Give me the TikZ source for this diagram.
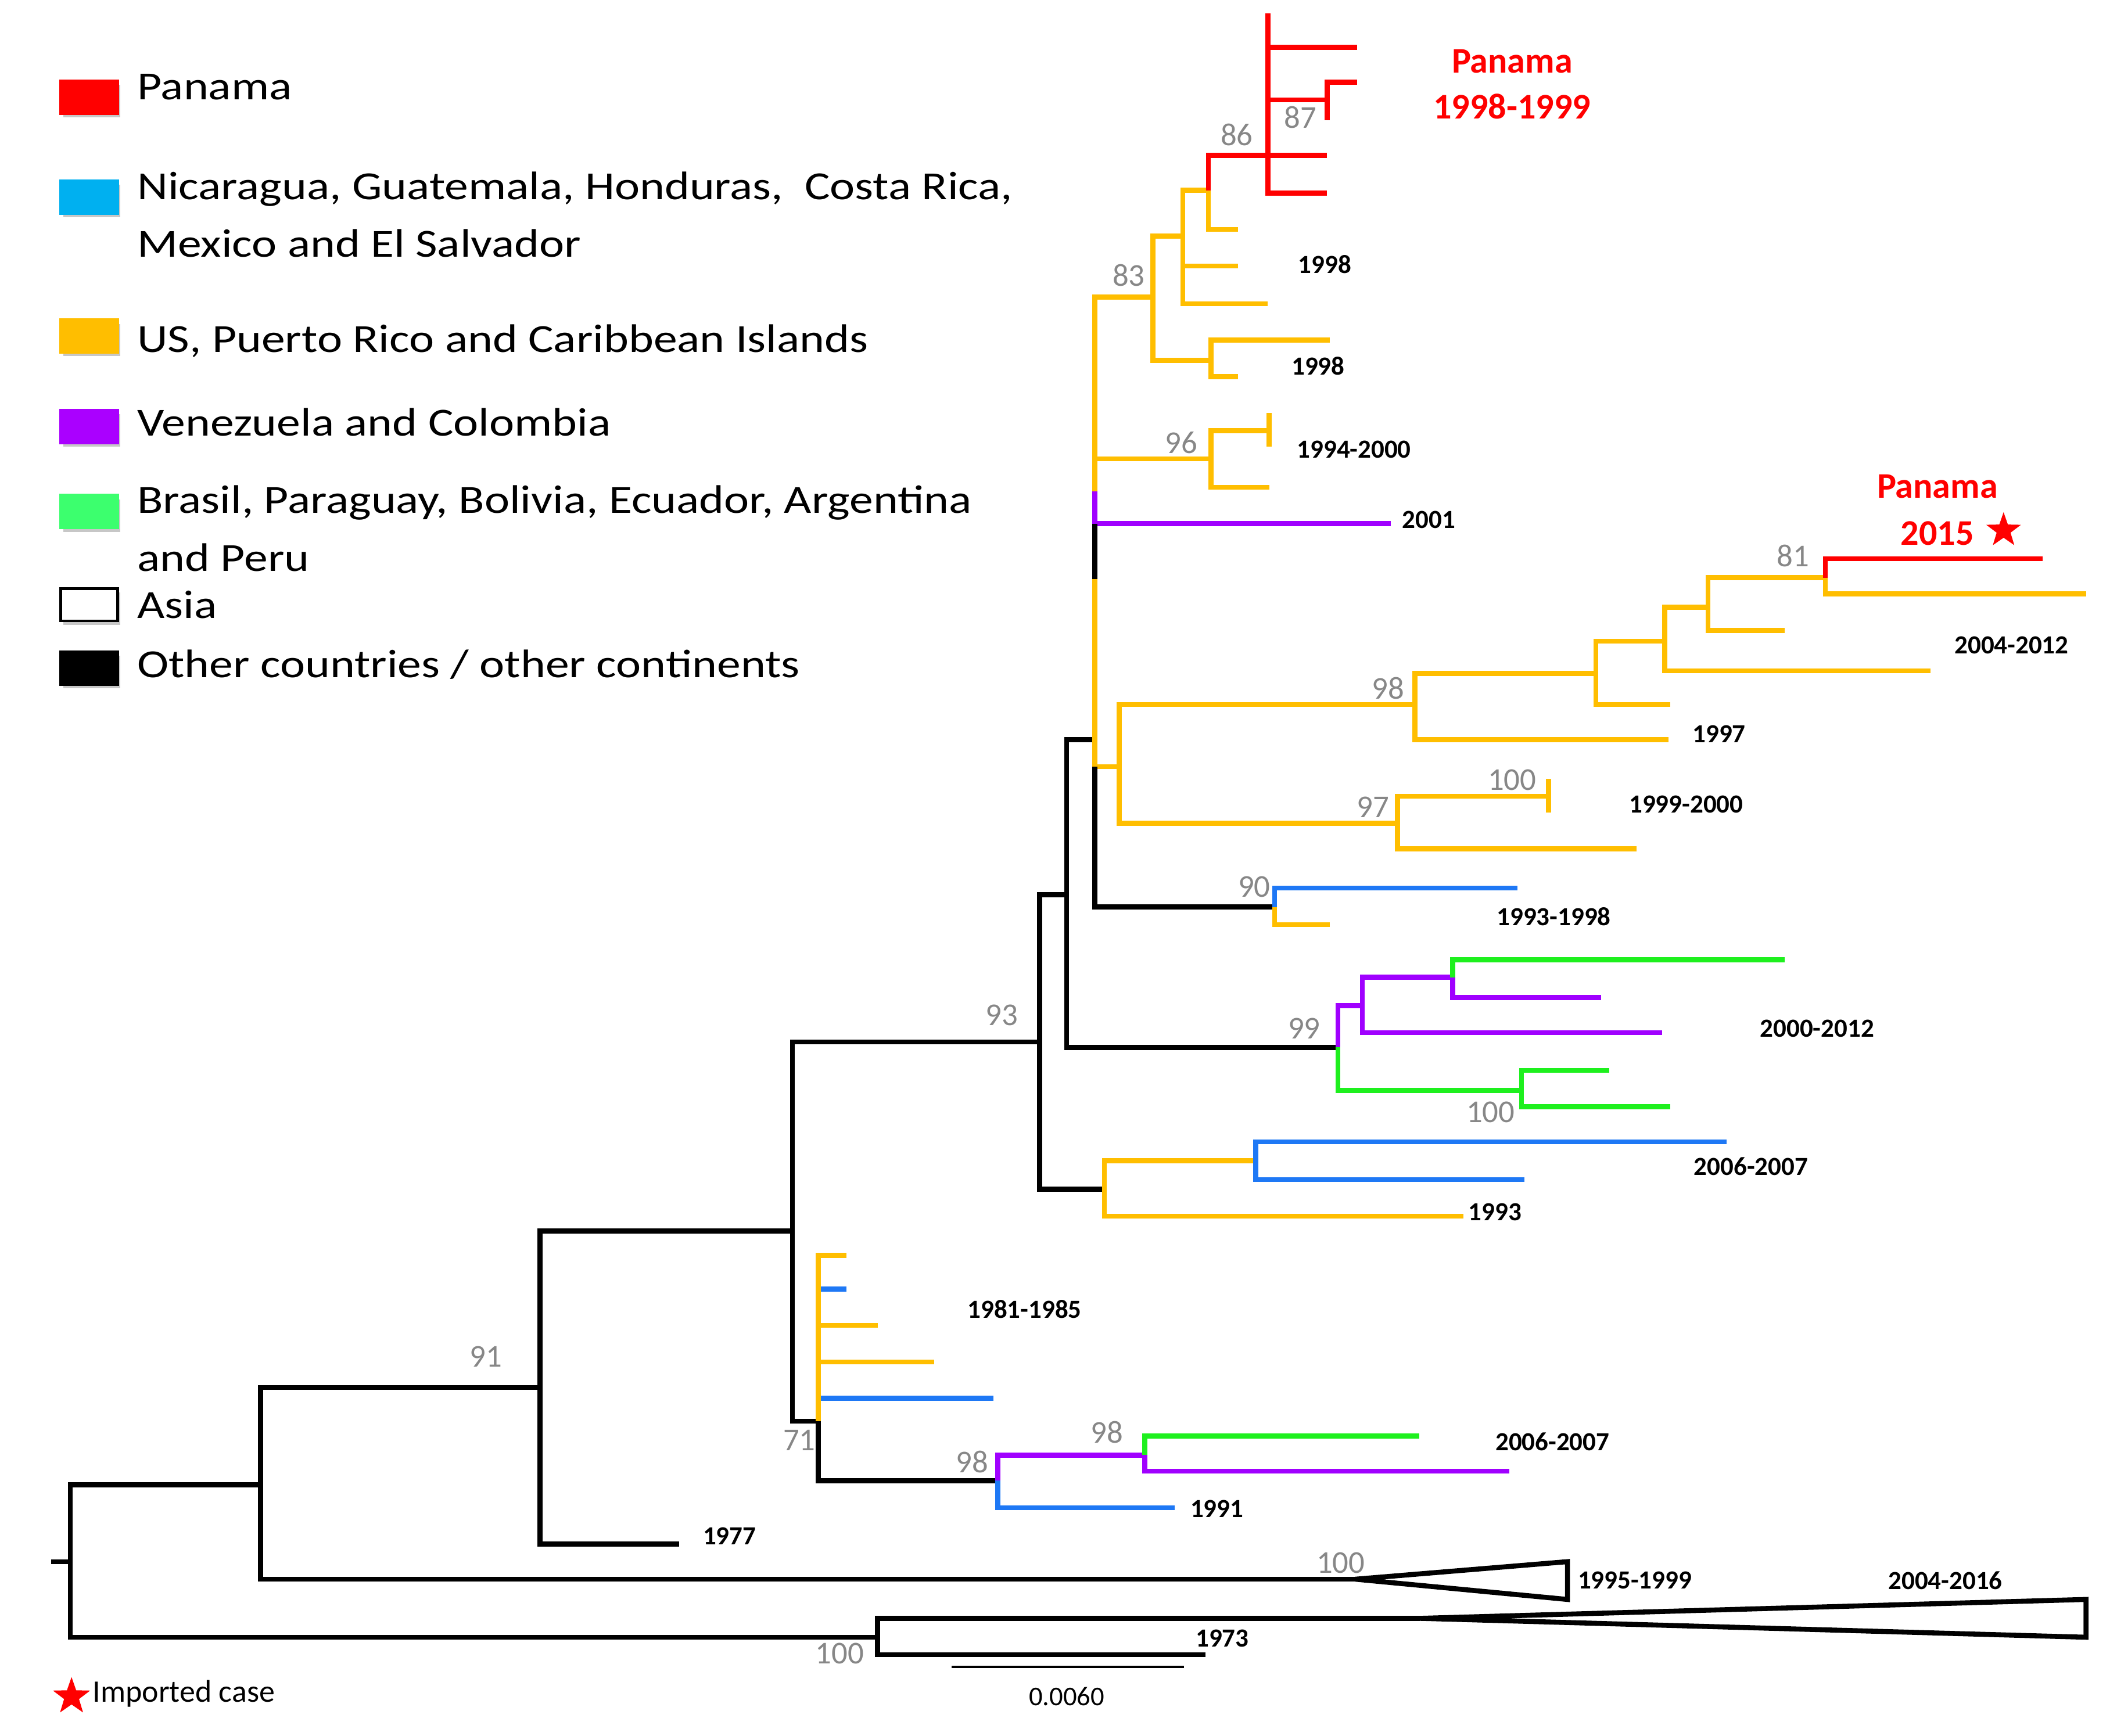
\documentclass[tikz,border=0pt]{standalone}
\usepackage{fontspec}
\setmainfont{Carlito}
\usepackage{tikz}
\usetikzlibrary{shapes.geometric}
\definecolor{pan}{RGB}{255,0,0}
\definecolor{cam}{RGB}{30,120,245}
\definecolor{camleg}{RGB}{0,176,240}
\definecolor{car}{RGB}{255,190,0}
\definecolor{ven}{RGB}{160,0,255}
\definecolor{venleg}{RGB}{170,0,255}
\definecolor{sam}{RGB}{30,240,30}
\definecolor{samleg}{RGB}{60,255,110}
\definecolor{bootgray}{RGB}{135,135,135}
\newcommand{\twig}[3]{\draw[branch,#1] (#2) |- (#3);}
\newcommand{\swatch}[3]{\fill[black!22] (47,#1+3) rectangle (89,#1+27);
					\filldraw[fill=#2,draw=#3,line width=0.6pt] (45,#1) rectangle (87,#1+24);}
\newcommand{\wide}[1]{\scalebox{1.19}[1]{#1}}

\begin{document}
\begin{tikzpicture}[x=0.01cm,y=-0.01cm,
		branch/.style={line width=1.05pt,line join=miter},
		boot/.style={text=bootgray,font=\fontsize{6.7}{7.5}\selectfont,inner sep=0pt},
		yr/.style={font=\bfseries\fontsize{5.5}{6.5}\selectfont,anchor=west,inner sep=0pt},
		lg/.style={font=\fontsize{8.4}{10}\selectfont,anchor=base west,inner sep=0pt},
		redlab/.style={text=pan,font=\bfseries\fontsize{7.6}{8.5}\selectfont,anchor=base,inner sep=0pt},
		redstar/.style={star,star points=5,star point ratio=2.5,fill=pan,inner sep=0pt}]

	\useasboundingbox (0,0) rectangle (1568,1286);

	% legend
	\swatch{60}{pan}{pan}
	\node[lg] (lgPan) at (101,74) {\wide{Panama}};
	\swatch{134}{camleg}{camleg}
	\node[lg] (lgCam) at (101,148) {\wide{Nicaragua, Guatemala, Honduras,\ \ Costa Rica,}};
	\node[lg] (lgCamb) at (101,190.6) {\wide{Mexico and El Salvador}};
	\swatch{237}{car}{car}
	\node[lg] (lgCar) at (101,261) {\wide{US, Puerto Rico and Caribbean Islands}};
	\swatch{304}{venleg}{venleg}
	\node[lg] (lgVen) at (101,323) {\wide{Venezuela and Colombia}};
	\swatch{367}{samleg}{samleg}
	\node[lg] (lgSam) at (101,380) {\wide{Brasil, Paraguay, Bolivia, Ecuador, Argentina}};
	\node[lg] (lgSamb) at (101,423) {\wide{and Peru}};
	\swatch{436}{white}{black}
	\node[lg] (lgAsia) at (101,458) {\wide{Asia}};
	\swatch{483}{black}{black}
	\node[lg] (lgOth) at (101,502) {\wide{Other countries / other continents}};

	% backbone
	\coordinate (stub) at (38,1157);
	\coordinate (root) at (52,1157);
	\coordinate (nD) at (193,1100);
	\coordinate (n100b) at (650,1213);
	\coordinate (n91) at (400,1028);
	\coordinate (apexA) at (1004,1170);
	\coordinate (triAt) at (1161,1157);
	\coordinate (triAb) at (1161,1185);
	\coordinate (apexB) at (1052,1199);
	\coordinate (triBt) at (1545,1185);
	\coordinate (triBb) at (1545,1213);
	\coordinate (t1973) at (893,1226);
	\coordinate (nC) at (587,912);
	\coordinate (t1977) at (503,1144);
	\coordinate (n93) at (770,772);
	\coordinate (n71) at (606,1053);
	\coordinate (nB) at (790,663);
	\coordinate (n818) at (818,881);
	\coordinate (nA) at (811,548);
	\coordinate (n99) at (991,776);
	\coordinate (n90) at (944,672);
	\coordinate (n98b) at (739,1097);

	\draw[branch] (stub) -- (root);
	\twig{black}{root}{nD}
	\twig{black}{root}{n100b}
	\twig{black}{nD}{n91}
	\twig{black}{nD}{apexA}
	\twig{black}{n91}{nC}
	\twig{black}{n91}{t1977}
	\twig{black}{nC}{n93}
	\twig{black}{nC}{n71}
	\twig{black}{n93}{nB}
	\twig{black}{n93}{n818}
	\twig{black}{nB}{nA}
	\twig{black}{nB}{n99}
	\twig{black}{n100b}{apexB}
	\twig{black}{n100b}{t1973}
	\twig{black}{n71}{n98b}
	\draw[branch] (apexA) -- (triAt) -- (triAb) -- cycle;
	\draw[branch] (apexB) -- (triBt) -- (triBb) -- cycle;

	% main yellow clade
	\coordinate (n83) at (854,220);
	\coordinate (n96) at (897,340);
	\coordinate (t2001) at (1030,388);
	\coordinate (n829) at (829,568);
	\coordinate (vP) at (811,364);
	\coordinate (vY) at (811,429);
	\twig{car}{vP}{n83}
	\draw[branch,car] (nA |- n96) -- (n96);
	\twig{ven}{vP}{t2001}
	\draw[branch] (nA |- t2001) -- (vY);
	\twig{car}{vY}{n829}
	\draw[branch] (nA |- n829) |- (n90);

	\coordinate (n876) at (876,175);
	\coordinate (n897a) at (897,267);
	\coordinate (n895) at (895,141);
	\coordinate (n939) at (939,115);
	\coordinate (n87) at (983,74);
	\coordinate (tPa) at (939,10);
	\coordinate (tPb) at (1005,35);
	\coordinate (tPc) at (983,115);
	\coordinate (tPd) at (983,143);
	\coordinate (tPe) at (1005,61);
	\coordinate (tPf) at (983,89);
	\coordinate (tY1) at (917,170);
	\coordinate (tY2) at (917,197);
	\coordinate (tY3) at (939,225);
	\coordinate (tY4) at (985,252);
	\coordinate (tY5) at (917,279);
	\twig{car}{n83}{n876}
	\twig{car}{n83}{n897a}
	\twig{car}{n876}{n895}
	\twig{car}{n876}{tY2}
	\twig{car}{n876}{tY3}
	\twig{car}{n895}{tY1}
	\twig{pan}{n895}{n939}
	\twig{pan}{n939}{tPa}
	\twig{pan}{n939}{tPb}
	\twig{pan}{n939}{n87}
	\twig{pan}{n939}{tPc}
	\twig{pan}{n939}{tPd}
	\twig{pan}{n87}{tPe}
	\twig{pan}{n87}{tPf}
	\twig{car}{n897a}{tY4}
	\twig{car}{n897a}{tY5}

	\coordinate (n940) at (940,319);
	\coordinate (t96a) at (940,306);
	\coordinate (t96b) at (940,331);
	\coordinate (t96c) at (940,361);
	\twig{car}{n96}{n940}
	\twig{car}{n96}{t96c}
	\draw[branch,car] (t96a) -- (t96b);

	\coordinate (n98a) at (1048,522);
	\coordinate (n97) at (1035,610);
	\coordinate (n1182) at (1182,499);
	\coordinate (n1233) at (1233,475);
	\coordinate (n1265) at (1265,450);
	\coordinate (n81) at (1352,428);
	\coordinate (n100y) at (1147,590);
	\coordinate (t1997) at (1236,548);
	\coordinate (tQ1) at (1237,522);
	\coordinate (tQ2) at (1430,497);
	\coordinate (tQ3) at (1322,467);
	\coordinate (tP15) at (1513,414);
	\coordinate (tQ4) at (1545,440);
	\coordinate (tQ5) at (1212,629);
	\coordinate (t100a) at (1147,577);
	\coordinate (t100b) at (1147,602);
	\twig{car}{n829}{n98a}
	\twig{car}{n829}{n97}
	\twig{car}{n98a}{n1182}
	\twig{car}{n98a}{t1997}
	\twig{car}{n1182}{n1233}
	\twig{car}{n1182}{tQ1}
	\twig{car}{n1233}{n1265}
	\twig{car}{n1233}{tQ2}
	\twig{car}{n1265}{n81}
	\twig{car}{n1265}{tQ3}
	\twig{pan}{n81}{tP15}
	\twig{car}{n81}{tQ4}
	\twig{car}{n97}{n100y}
	\twig{car}{n97}{tQ5}
	\draw[branch,car] (t100a) -- (t100b);

	\coordinate (t90a) at (1124,658);
	\coordinate (t90b) at (985,685);
	\twig{cam}{n90}{t90a}
	\twig{car}{n90}{t90b}

	% 99 clade
	\coordinate (n1009) at (1009,745);
	\coordinate (n1127) at (1127,808);
	\coordinate (n1076) at (1076,724);
	\coordinate (tV1) at (1322,711);
	\coordinate (tV2) at (1186,739);
	\coordinate (tV3) at (1231,765);
	\coordinate (tV4) at (1192,793);
	\coordinate (tV5) at (1237,820);
	\twig{ven}{n99}{n1009}
	\twig{sam}{n99}{n1127}
	\twig{ven}{n1009}{n1076}
	\twig{ven}{n1009}{tV3}
	\twig{sam}{n1076}{tV1}
	\twig{ven}{n1076}{tV2}
	\twig{sam}{n1127}{tV4}
	\twig{sam}{n1127}{tV5}

	\coordinate (n930) at (930,860);
	\coordinate (tC1) at (1279,846);
	\coordinate (tC2) at (1129,874);
	\coordinate (t1993) at (1084,901);
	\twig{car}{n818}{n930}
	\twig{car}{n818}{t1993}
	\twig{cam}{n930}{tC1}
	\twig{cam}{n930}{tC2}

	% 1981-1985 group
	\coordinate (tE1) at (627,930);
	\coordinate (tE2) at (627,955);
	\coordinate (tE3) at (650,982);
	\coordinate (tE4) at (692,1009);
	\coordinate (tE5) at (736,1036);
	\twig{cam}{n71}{tE2}
	\twig{cam}{n71}{tE5}
	\twig{car}{n71}{tE1}
	\twig{car}{n71}{tE3}
	\twig{car}{n71}{tE4}

	\coordinate (n848) at (848,1078);
	\coordinate (t1991) at (870,1117);
	\coordinate (tF1) at (1051,1064);
	\coordinate (tF2) at (1118,1090);
	\twig{ven}{n98b}{n848}
	\twig{cam}{n98b}{t1991}
	\twig{sam}{n848}{tF1}
	\twig{ven}{n848}{tF2}

	% support values
	\node[boot] (b87) at (963,87) {87};
	\node[boot] (b86) at (916,100) {86};
	\node[boot] (b83) at (836,204) {83};
	\node[boot] (b96) at (875,328) {96};
	\node[boot] (b81) at (1328,412) {81};
	\node[boot] (b98a) at (1028,510) {98};
	\node[boot] (b100y) at (1120,578) {100};
	\node[boot] (b97) at (1017,598) {97};
	\node[boot] (b90) at (929,657) {90};
	\node[boot] (b93) at (742,752) {93};
	\node[boot] (b99) at (966,762) {99};
	\node[boot] (b100g) at (1104,824) {100};
	\node[boot] (b91) at (360,1005) {91};
	\node[boot] (b98c) at (820,1061) {98};
	\node[boot] (b71) at (592,1067) {71};
	\node[boot] (b98b) at (720,1083) {98};
	\node[boot] (b100a) at (993,1158) {100};
	\node[boot] (b100b) at (622,1225) {100};

	% years
	\node[yr] (y1998a) at (961,196) {1998};
	\node[yr] (y1998b) at (956,271) {1998};
	\node[yr] (y1994) at (960,333) {1994-2000};
	\node[yr] (y2001) at (1038,385) {2001};
	\node[yr] (y2004) at (1447,478) {2004-2012};
	\node[yr] (y1997) at (1253,544) {1997};
	\node[yr] (y1999) at (1206,596) {1999-2000};
	\node[yr] (y1993a) at (1108,679) {1993-1998};
	\node[yr] (y2000) at (1303,762) {2000-2012};
	\node[yr] (y2006a) at (1254,864) {2006-2007};
	\node[yr] (y1993) at (1087,898) {1993};
	\node[yr] (y1981) at (716,970) {1981-1985};
	\node[yr] (y2006b) at (1107,1068) {2006-2007};
	\node[yr] (y1991) at (881,1118) {1991};
	\node[yr] (y1977) at (520,1138) {1977};
	\node[yr] (y1995) at (1168,1171) {1995-1999};
	\node[yr] (y2004b) at (1398,1171) {2004-2016};
	\node[yr] (y1973) at (885,1214) {1973};

	% Panama labels
	\node[redlab] (pan98) at (1120,54) {Panama};
	\node[redlab] (pan98b) at (1120,88) {1998-1999};
	\node[redlab] (pan15) at (1435,369) {Panama};
	\node[redlab] (pan15b) at (1435,404) {2015};
	\node[redstar,minimum size=0.27cm] (star15) at (1484,393) {};

	% scale and note
	\coordinate (sbL) at (705,1235);
	\coordinate (sbR) at (877,1235);
	\draw[line width=0.5pt] (sbL) -- (sbR);
	\node[font=\fontsize{5.7}{6.5}\selectfont,inner sep=0pt] (sbLab) at (790,1257) {0.0060};
	\node[redstar,minimum size=0.29cm] (impStar) at (53,1257) {};
	\node[font=\fontsize{6.6}{7.5}\selectfont,anchor=base west,inner sep=0pt] (impLab) at (68,1261) {Imported case};

\end{tikzpicture}
\end{document}
